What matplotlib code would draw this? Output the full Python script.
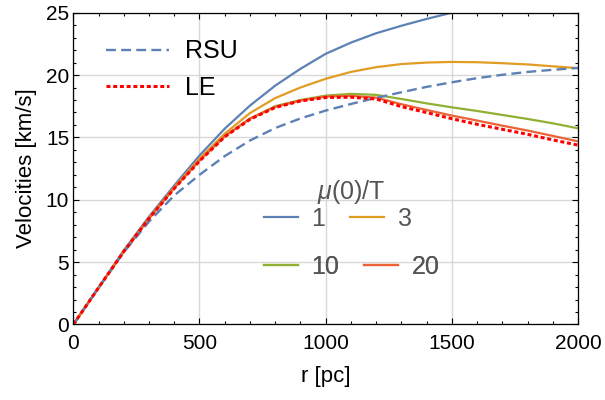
import numpy as np
import matplotlib
matplotlib.use("Agg")
import matplotlib.pyplot as plt
from matplotlib.lines import Line2D
from matplotlib.ticker import MultipleLocator

# 数据 (从图上读取, r 每 100 pc 一个点)
r_pc = [0, 100, 200, 300, 400, 500, 600, 700, 800, 900, 1000,
        1100, 1200, 1300, 1400, 1500, 1600, 1700, 1800, 1900, 2000]

# mu(0)/T = 1 (到 1500 pc 就出上边界了)
v_mu1 = [0, 2.95, 5.95, 8.65, 11.15, 13.55, 15.7, 17.55, 19.15, 20.5, 21.7,
         22.6, 23.35, 23.95, 24.5, 25.0]
v_mu3 = [0, 2.95, 5.85, 8.55, 11.0, 13.3, 15.3, 16.95, 18.15, 19.0, 19.7,
         20.25, 20.63, 20.88, 21.0, 21.05, 21.03, 20.95, 20.85, 20.7, 20.55]
v_mu10 = [0, 2.95, 5.85, 8.5, 10.95, 13.15, 15.1, 16.5, 17.5, 18.0, 18.35,
          18.49, 18.41, 18.08, 17.73, 17.41, 17.12, 16.8, 16.48, 16.13, 15.73]
v_mu20 = [0, 2.95, 5.85, 8.5, 10.95, 13.15, 15.1, 16.5, 17.45, 17.95, 18.27,
          18.33, 18.19, 17.66, 17.2, 16.75, 16.35, 15.94, 15.55, 15.12, 14.68]
v_rsu = [0, 2.95, 5.8, 8.25, 10.35, 12.0, 13.5, 14.75, 15.75, 16.52, 17.15,
         17.68, 18.17, 18.62, 19.05, 19.42, 19.75, 20.02, 20.25, 20.42, 20.57]
v_le = [0, 2.95, 5.85, 8.5, 10.9, 13.1, 15.05, 16.45, 17.4, 17.92, 18.2,
        18.22, 18.08, 17.47, 16.99, 16.5, 16.05, 15.65, 15.25, 14.8, 14.38]

mu_labels = ["1", "3", "10", "20"]
mu_colors = ["#5E81B5", "#E19C24", "#8FB032", "#EB6235"]

plt.rcParams["font.family"] = ["Liberation Sans", "DejaVu Sans"]
plt.rcParams["mathtext.fontset"] = "custom"
plt.rcParams["mathtext.rm"] = "Liberation Sans"
plt.rcParams["mathtext.it"] = "Liberation Sans:italic"


def main():
    fig = plt.figure(figsize=(6.05, 4.0), dpi=100)
    ax = fig.add_axes([0.1212, 0.1888, 0.8342, 0.7795])

    # 四条 mu 曲线
    mu_series = [v_mu1, v_mu3, v_mu10, v_mu20]
    for vals, col in zip(mu_series, mu_colors):
        ax.plot(r_pc[:len(vals)], vals, color=col, lw=1.6, solid_capstyle="butt", solid_joinstyle="round")
    ax.plot(r_pc, v_rsu, color="#5E81B5", lw=1.7, dashes=(4.2, 2.2))
    ax.plot(r_pc, v_le, color="red", lw=2.2, dashes=(1.3, 0.9))

    ax.set_xlim(0, 2000)
    ax.set_ylim(0, 25)
    ax.xaxis.set_major_locator(MultipleLocator(500))
    ax.xaxis.set_minor_locator(MultipleLocator(100))
    ax.yaxis.set_major_locator(MultipleLocator(5))
    ax.yaxis.set_minor_locator(MultipleLocator(1))
    ax.grid(True, which="major", color="#D8D8D8", lw=1.0)
    ax.set_axisbelow(True)
    ax.tick_params(which="both", direction="in", top=True, right=True, width=0.8, colors="black")
    ax.tick_params(which="major", length=4.3, labelsize=15)
    ax.tick_params(axis="x", which="major", pad=7)
    ax.tick_params(axis="y", which="major", pad=3)
    ax.tick_params(which="minor", length=2.5)
    for sp in ax.spines.values():
        sp.set_linewidth(0.9)
        sp.set_color("black")

    ax.set_xlabel("r [pc]", fontsize=16, labelpad=9)
    ax.set_ylabel("Velocities [km/s]", fontsize=16, labelpad=6)

    # 图例1: RSU / LE
    h1 = [Line2D([], [], color="#5E81B5", lw=1.7, dashes=(4.2, 2.2)),
          Line2D([], [], color="red", lw=2.2, dashes=(1.3, 0.9))]
    leg1 = ax.legend(h1, ["RSU", "LE"], loc="center left", bbox_to_anchor=(106 / 605, 1 - 69.5 / 400),
                     bbox_transform=fig.transFigure, frameon=False, fontsize=18, borderpad=0,
                     borderaxespad=0, handlelength=2.5, handletextpad=0.65, labelspacing=0.5)
    ax.add_artist(leg1)

    # 图例2: mu(0)/T, 每行单独排
    fig.text(351 / 605, 1 - 192 / 400, r"$\mu$(0)/T", fontsize=18, color="#555555", ha="center", va="center")
    rows = [[0, 1], [2, 3]]
    row_y = [219, 267]
    for idx, y in zip(rows, row_y):
        hs = [Line2D([], [], color=mu_colors[i], lw=1.6) for i in idx]
        leg = ax.legend(hs, [mu_labels[i] for i in idx], loc="center left", ncol=2,
                        bbox_to_anchor=(264 / 605, 1 - y / 400), bbox_transform=fig.transFigure,
                        frameon=False, fontsize=18, borderpad=0, borderaxespad=0, handlelength=1.35,
                        handletextpad=0.55, columnspacing=1.0, labelcolor="#555555")
        ax.add_artist(leg)

    fig.savefig("out.png", dpi=100)


if __name__ == "__main__":
    main()
